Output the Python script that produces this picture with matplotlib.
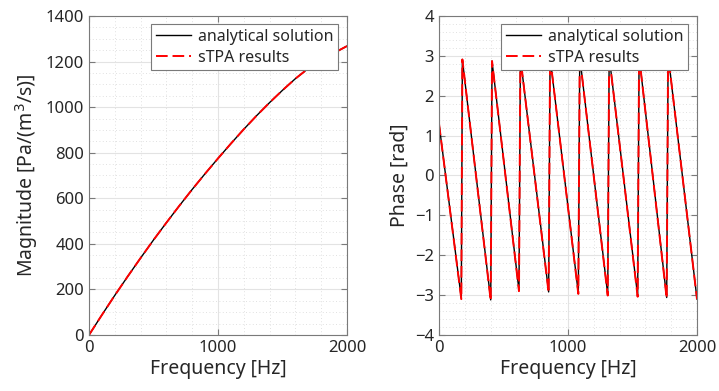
import matplotlib
matplotlib.use("Agg")
import matplotlib.pyplot as plt
from matplotlib.ticker import MultipleLocator
import numpy as np

plt.rcParams['font.family'] = ['Noto Sans', 'DejaVu Sans']

# Magnitude data
freq_mag = [0, 100, 200, 300, 400, 500, 600, 700, 800, 900, 1000, 1100, 1200,
            1300, 1400, 1500, 1600, 1700, 1800, 1900, 2000]
mag_analytical = [0, 88, 174, 257, 338, 417, 493, 567, 639, 708, 775, 840, 903,
                  963, 1020, 1074, 1125, 1170, 1206, 1238, 1268]
mag_stpa = mag_analytical

# Phase data (vertices of the wrapped phase)
freq_phase = [0, 173, 181, 401, 411, 620, 631, 850, 861, 1080, 1091, 1308, 1319,
              1540, 1551, 1765, 1776, 2000]
phase_analytical = [1.3, -3.08, 2.91, -3.12, 2.87, -2.88, 2.95, -2.92, 2.97,
                    -2.95, 2.98, -2.99, 2.99, -3.02, 3.0, -3.06, 3.02, -3.1]
phase_stpa = [1.3, -3.10, 2.91, -3.14, 2.87, -2.90, 2.95, -2.94, 2.97,
              -2.97, 2.98, -3.01, 2.99, -3.04, 3.0, -3.08, 3.02, -3.1]

fig = plt.figure(figsize=(7.19, 3.91), dpi=100)
W, H = 719, 391
ax1 = fig.add_axes([89 / W, (H - 335) / H, 258 / W, 319 / H])
ax2 = fig.add_axes([439 / W, (H - 335) / H, 258 / W, 319 / H])

txt = '#262626'
for ax in (ax1, ax2):
    ax.set_axisbelow(True)
    ax.grid(which='major', color='#e3e3e3', linewidth=0.8, linestyle='-')
    ax.grid(which='minor', color='#d6d6d6', linewidth=0.6, linestyle=(0, (1, 3)))
    for s in ax.spines.values():
        s.set_color('#7a7a7a')
        s.set_linewidth(0.8)
    ax.tick_params(which='both', direction='in', colors='#7a7a7a',
                   labelcolor=txt, labelsize=12, top=True, right=True)
    ax.tick_params(which='major', length=4)
    ax.tick_params(which='minor', length=0)
    ax.set_xlim(0, 2000)
    ax.set_xticks([0, 1000, 2000])
    ax.xaxis.set_minor_locator(MultipleLocator(200))
    ax.set_xlabel('Frequency [Hz]', fontsize=14, color=txt, labelpad=2)

ax1.plot(freq_mag, mag_analytical, color='black', linewidth=1.0,
         label='analytical solution')
ax1.plot(freq_mag, mag_stpa, color='red', linewidth=1.4, linestyle=(0, (6, 2.5)),
         label='sTPA results')
ax1.set_ylim(0, 1400)
ax1.set_yticks(np.arange(0, 1401, 200))
ax1.yaxis.set_minor_locator(MultipleLocator(50))
ax1.set_ylabel('Magnitude [Pa/(m$^3$/s)]', fontsize=14, color=txt, labelpad=4)

ax2.plot(freq_phase, phase_analytical, color='black', linewidth=1.0,
         label='analytical solution')
ax2.plot(freq_phase, phase_stpa, color='red', linewidth=1.4, linestyle=(0, (6, 2.5)),
         label='sTPA results')
ax2.set_ylim(-4, 4)
ax2.set_yticks(np.arange(-4, 5, 1))
ax2.set_yticklabels(['\u22124', '\u22123', '\u22122', '\u22121', '0', '1', '2', '3', '4'])
ax2.yaxis.set_minor_locator(MultipleLocator(0.2))
ax2.set_ylabel('Phase [rad]', fontsize=14, color=txt, labelpad=4)

for ax in (ax1, ax2):
    leg = ax.legend(loc='upper right', bbox_to_anchor=(0.965, 0.975), fontsize=11.5,
                    frameon=True, fancybox=False, framealpha=1, edgecolor='#7a7a7a',
                    borderpad=0.3, handlelength=2.2, handletextpad=0.4,
                    labelspacing=0.3, borderaxespad=0)
    leg.get_frame().set_linewidth(0.8)
    for t in leg.get_texts():
        t.set_color(txt)

fig.savefig('out.png', dpi=100)
